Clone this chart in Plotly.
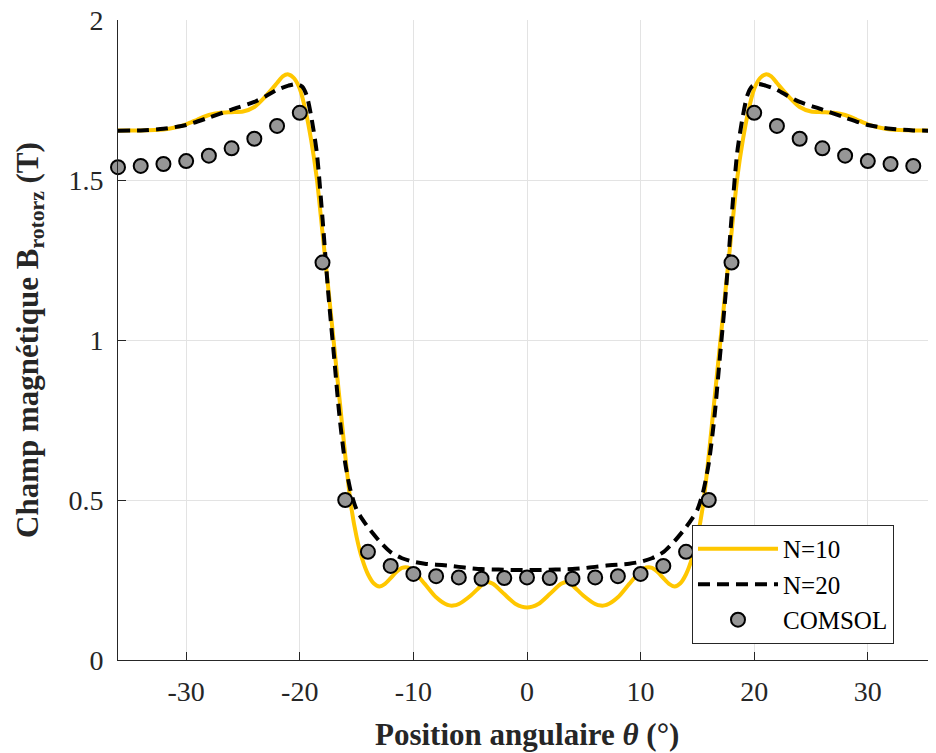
import plotly.graph_objects as go

# ---------------- data ----------------
n10_x = [-36, -34, -32, -31, -30, -29, -28, -27, -26, -25, -24, -23, -22, -21.5, -21, -20.5,
         -20, -19.5, -19, -18.5, -18, -17.5, -17, -16.5, -16, -15.5, -15, -14.5, -14, -13.5,
         -13, -12.5, -12, -11.5, -11, -10.5, -10, -9, -8, -7, -6.5, -6, -5, -4, -3.5, -3, -2, -1, 0,
         1, 2, 3, 3.5, 4, 5, 6, 6.5, 7, 8, 9, 10, 10.5, 11, 11.5, 12, 12.5, 13, 13.5, 14, 14.5,
         15, 15.5, 16, 16.5, 17, 17.5, 18, 18.5, 19, 19.5, 20, 20.5, 21, 21.5, 22, 23, 24, 25,
         26, 27, 28, 29, 30, 31, 32, 34, 36]
n10_y = [1.655, 1.655, 1.658, 1.664, 1.674, 1.689, 1.703, 1.710, 1.712, 1.714, 1.728, 1.762,
         1.803, 1.824, 1.830, 1.818, 1.785, 1.718, 1.625, 1.505, 1.335, 1.165, 0.990, 0.815,
         0.640, 0.485, 0.385, 0.315, 0.268, 0.240, 0.230, 0.238, 0.256, 0.275, 0.288, 0.289,
         0.278, 0.238, 0.196, 0.172, 0.170, 0.175, 0.200, 0.233, 0.244, 0.238, 0.206, 0.175, 0.164,
         0.175, 0.206, 0.238, 0.244, 0.233, 0.200, 0.175, 0.170, 0.172, 0.196, 0.238, 0.278,
         0.289, 0.288, 0.275, 0.256, 0.238, 0.230, 0.240, 0.268, 0.315, 0.385, 0.485, 0.640,
         0.815, 0.990, 1.165, 1.335, 1.505, 1.625, 1.718, 1.785, 1.818, 1.830, 1.824, 1.803,
         1.762, 1.728, 1.714, 1.712, 1.710, 1.703, 1.689, 1.674, 1.664, 1.658, 1.655, 1.655]

n20_x = [-36, -34, -32, -30, -28, -26, -24, -23, -22, -21, -20.3, -19.8, -19.4, -19, -18.5, -18,
         -17.5, -17, -16.5, -16, -15.5, -15, -14.5, -14, -13, -12, -11, -10, -9, -8, -7, -6, -5,
         -4, -3, -2, -1, 0,
         1, 2, 3, 4, 5, 6, 7, 8, 9, 10, 11, 12, 13, 14, 14.5, 15, 15.5, 16, 16.5, 17, 17.5, 18,
         18.5, 19, 19.4, 19.8, 20.3, 21, 22, 23, 24, 26, 28, 30, 32, 34, 36]
n20_y = [1.654, 1.655, 1.660, 1.672, 1.695, 1.720, 1.744, 1.762, 1.782, 1.795, 1.800, 1.792,
         1.765, 1.700, 1.585, 1.380, 1.150, 0.955, 0.760, 0.615, 0.525, 0.470, 0.440, 0.415,
         0.372, 0.337, 0.318, 0.307, 0.301, 0.298, 0.295, 0.291, 0.287, 0.284, 0.283, 0.282,
         0.281, 0.281,
         0.281, 0.282, 0.283, 0.284, 0.287, 0.291, 0.295, 0.298, 0.301, 0.307, 0.318, 0.337,
         0.372, 0.415, 0.440, 0.470, 0.525, 0.615, 0.760, 0.955, 1.150, 1.380, 1.585, 1.700,
         1.765, 1.792, 1.800, 1.795, 1.782, 1.762, 1.744, 1.720, 1.695, 1.672, 1.660, 1.655, 1.654]

comsol_x = [-36, -34, -32, -30, -28, -26, -24, -22, -20, -18, -16, -14, -12, -10, -8, -6, -4, -2,
            0, 2, 4, 6, 8, 10, 12, 14, 16, 18, 20, 22, 24, 26, 28, 30, 32, 34, 36]
comsol_y = [1.540, 1.544, 1.550, 1.559, 1.576, 1.599, 1.629, 1.669, 1.710, 1.242, 0.500, 0.338,
            0.294, 0.269, 0.262, 0.258, 0.254, 0.256, 0.258, 0.256, 0.254, 0.258, 0.262, 0.269,
            0.294, 0.338, 0.500, 1.242, 1.710, 1.669, 1.629, 1.599, 1.576, 1.559, 1.550, 1.544, 1.540]

x_ticks = [-30, -20, -10, 0, 10, 20, 30]
x_ticklabels = ["-30", "-20", "-10", "0", "10", "20", "30"]
y_ticks = [0, 0.5, 1, 1.5, 2]
y_ticklabels = ["0", "0.5", "1", "1.5", "2"]

series_names = ["N=10", "N=20", "COMSOL"]
x_title = "<b>Position angulaire <i>θ</i> (°)</b>"
y_title = "<b>Champ magnétique B<sub>rotorz</sub> (T)</b>"

# ---------------- figure ----------------
FONT = "Liberation Serif, Times New Roman, serif"
AX = "#262626"

fig = go.Figure()
fig.add_trace(go.Scatter(x=n10_x, y=n10_y, mode="lines", name=series_names[0],
                         line=dict(color="#FFC700", width=4, shape="spline", smoothing=0.7)))
fig.add_trace(go.Scatter(x=n20_x, y=n20_y, mode="lines", name=series_names[1],
                         line=dict(color="black", width=4, dash="12px,7px",
                                   shape="spline", smoothing=0.7)))
fig.add_trace(go.Scatter(x=comsol_x, y=comsol_y, mode="markers", name=series_names[2],
                         cliponaxis=False,
                         marker=dict(symbol="circle", size=14, color="#969696",
                                     line=dict(color="black", width=2))))

# the page body adds an 8px offset; the figure is sized to fill the rest of the window
fig.update_layout(
    width=928, height=745,
    margin=dict(l=110, r=0, t=12, b=93, autoexpand=False),
    plot_bgcolor="white", paper_bgcolor="white",
    font=dict(family=FONT, size=28, color=AX),
    showlegend=True,
    legend=dict(x=0.7017, y=0.211, xanchor="left", yanchor="top",
                bgcolor="white", bordercolor=AX, borderwidth=1,
                font=dict(family=FONT, size=25, color="black"),
                itemwidth=80, tracegroupgap=0),
    annotations=[
        dict(text=x_title, xref="paper", yref="paper", x=0.5, y=-0.117,
             xanchor="center", yanchor="middle", showarrow=False,
             font=dict(family=FONT, size=31, color=AX)),
        dict(text=y_title, xref="paper", yref="paper", x=-0.1076, y=0.5,
             xanchor="center", yanchor="middle", showarrow=False, textangle=-90,
             font=dict(family=FONT, size=31, color=AX)),
    ],
)
fig.update_xaxes(
    range=[-36, 36], tickmode="array", tickvals=x_ticks, ticktext=x_ticklabels,
    ticks="inside", ticklen=8, tickcolor=AX, tickwidth=1, automargin=False,
    showline=True, linecolor=AX, linewidth=1, mirror=False,
    showgrid=True, gridcolor="#E3E3E3", gridwidth=1, zeroline=False,
    ticklabelstandoff=6, ticklabeloverflow="allow",
    tickfont=dict(family=FONT, size=28, color=AX),
)
fig.update_yaxes(
    range=[0, 2], tickmode="array", tickvals=y_ticks, ticktext=y_ticklabels,
    ticks="inside", ticklen=8, tickcolor=AX, tickwidth=1, automargin=False,
    showline=True, linecolor=AX, linewidth=1, mirror=False,
    showgrid=True, gridcolor="#E3E3E3", gridwidth=1, zeroline=False,
    ticklabelstandoff=8, ticklabeloverflow="allow",
    tickfont=dict(family=FONT, size=28, color=AX),
)

fig.write_html("out.html")
